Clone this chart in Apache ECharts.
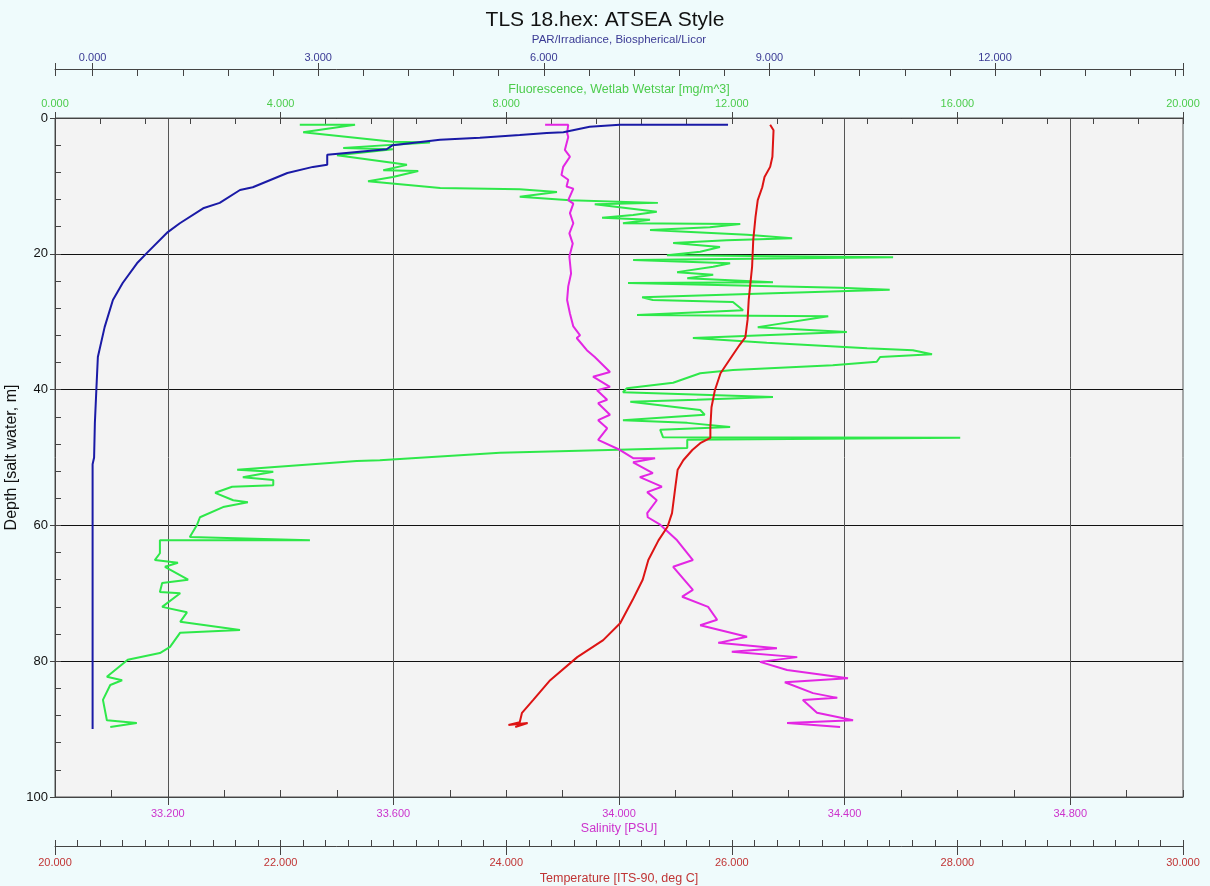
<!DOCTYPE html>
<html>
<head>
<meta charset="utf-8">
<script src="https://cdn.jsdelivr.net/npm/echarts@6/dist/echarts.min.js"></script>
<style>
html,body{margin:0;padding:0;background:#effbfc;}
#chart{width:1210px;height:886px;}
</style>
</head>
<body>
<div id="chart"></div>
<script>
// ---------------- data ----------------
const chartTitle = 'TLS 18.hex: ATSEA Style';

// PAR / Irradiance
const parDepth = [1.0,1.0,1.3,2.1,2.2,2.5,2.9,3.2,4.0,4.6,5.4,6.9,7.2,8.1,10.2,10.6,12.5,13.3,15.5,16.8,19.9,21.4,24.3,26.8,30.8,35.2,40.0,45.0,50.0,51.0,90.0];
const parValue = [8.45,7.01,6.61,6.26,6.04,5.68,5.15,4.62,3.99,3.91,3.12,3.12,2.93,2.59,2.13,1.96,1.69,1.47,1.16,1.00,0.72,0.59,0.40,0.27,0.16,0.07,0.05,0.03,0.02,0.00,0.00];

// Fluorescence
const fluDepth = [1.0,1.0,2.1,3.5,3.6,4.4,4.6,5.5,6.9,7.7,7.8,8.7,9.3,10.3,10.5,10.9,11.6,12.1,12.5,12.7,13.8,14.3,14.7,15.0,15.5,15.6,16.1,16.5,17.2,17.7,18.0,18.4,19.0,19.7,20.2,20.5,20.9,21.4,21.9,22.7,23.1,23.6,24.2,24.3,25.0,25.3,25.8,26.4,26.8,27.1,28.3,29.0,29.2,30.8,31.5,32.4,33.1,33.9,34.2,34.8,35.2,35.9,36.4,37.1,37.6,39.0,39.8,40.4,41.1,41.5,41.8,43.0,43.7,44.5,44.9,45.5,45.9,47.0,47.1,47.4,48.6,49.3,50.4,50.5,51.8,52.1,52.9,53.3,54.1,54.3,55.2,56.3,56.6,57.3,58.8,59.9,61.7,62.2,62.2,64.1,65.1,65.5,66.1,68.0,68.5,69.8,70.0,72.0,72.8,74.2,75.4,75.8,77.9,78.8,79.8,82.3,82.8,83.5,85.7,88.7,89.1,89.7];
const fluValue = [4.34,5.32,4.40,5.99,6.65,5.11,5.99,5.00,6.24,5.82,6.44,5.99,5.55,6.83,8.24,8.90,8.24,9.13,10.69,9.57,10.67,10.25,9.70,10.55,10.07,12.15,11.61,10.55,12.27,13.07,11.91,10.96,11.79,11.44,10.85,14.86,10.25,11.97,11.67,11.03,11.67,11.21,12.73,10.16,13.92,14.80,12.73,10.41,10.60,12.02,12.20,10.32,13.71,12.46,14.04,11.31,12.62,14.40,15.21,15.55,14.63,14.57,13.79,12.02,11.44,10.96,10.14,10.07,12.73,11.38,10.20,11.44,11.52,10.07,11.21,11.97,10.73,10.78,16.05,11.21,11.21,7.89,5.76,5.35,3.23,3.87,3.33,3.87,3.87,3.14,2.84,3.16,3.42,2.98,2.57,2.52,2.39,4.52,1.86,1.86,1.77,2.18,1.95,2.36,1.90,1.86,2.22,1.90,2.34,2.22,3.28,2.22,2.04,1.86,1.29,0.92,1.19,0.98,0.85,0.92,1.45,0.98];

// Salinity
const salDepth = [1.0,1.0,2.2,2.8,4.7,5.7,7.2,8.4,9.1,10.1,10.4,12.1,12.6,14.0,15.5,17.0,18.5,20.4,22.9,24.8,26.8,28.8,30.7,32.0,32.4,34.2,35.2,37.4,38.1,39.6,40.1,41.5,42.0,43.7,44.5,45.7,47.4,48.9,50.1,50.1,50.7,52.3,52.9,54.3,55.1,56.3,58.2,58.8,59.9,62.2,65.1,66.1,69.5,70.5,72.0,73.9,74.7,76.4,77.3,78.1,78.6,79.4,80.1,81.3,82.5,83.1,84.7,85.4,85.7,87.6,88.7,89.1,89.7];
const salValue = [33.869,33.910,33.908,33.910,33.904,33.913,33.901,33.898,33.910,33.907,33.919,33.910,33.919,33.913,33.919,33.912,33.918,33.912,33.915,33.910,33.908,33.913,33.919,33.931,33.925,33.943,33.957,33.984,33.954,33.984,33.961,33.979,33.963,33.984,33.963,33.979,33.963,34.002,34.025,34.064,34.025,34.060,34.037,34.076,34.050,34.067,34.050,34.051,34.073,34.103,34.131,34.096,34.131,34.112,34.158,34.174,34.144,34.227,34.176,34.280,34.200,34.316,34.250,34.298,34.406,34.294,34.344,34.387,34.326,34.351,34.415,34.298,34.392];

// Temperature
const tmpDepth = [1.0,1.8,5.7,7.2,8.7,10.2,12.1,14.6,18.0,21.9,26.8,29.7,32.3,33.4,35.6,37.6,40.1,42.6,45.5,47.1,47.9,48.9,50.4,51.8,54.3,58.2,60.2,62.2,65.1,68.0,71.0,74.4,76.9,79.4,82.8,85.7,87.6,89.0,89.4,89.1,89.7];
const tmpValue = [26.34,26.37,26.36,26.34,26.29,26.27,26.23,26.21,26.19,26.18,26.15,26.14,26.12,26.07,25.98,25.90,25.85,25.82,25.81,25.81,25.72,25.65,25.57,25.52,25.50,25.47,25.43,25.35,25.26,25.21,25.12,25.01,24.86,24.63,24.39,24.24,24.14,24.12,24.02,24.19,24.08];

// tick labels
const parTicks = [0, 3, 6, 9, 12];
const parEnds = [-0.5, 14.5];
const salTicks = [33.2, 33.6, 34.0, 34.4, 34.8];

// ---------------- chart ----------------
const FONT = 'Liberation Sans, Arial, sans-serif';
const zip = (d, v) => d.map((y, i) => [v[i], y]);

const parMinor = [];
for (let i = 0; i <= 24; i++) parMinor.push(Math.round(i * 0.6 * 100) / 100);
const parMinorTicks = [parEnds[0]].concat(parMinor, [parEnds[1]]);
const parMajorTicks = [parEnds[0]].concat(parTicks, [parEnds[1]]);

const fmt3 = v => Number(v).toFixed(3);
const axisLineStyle = { color: '#444', width: 1 };

function helperX(pos, offset, min, max, interval, len, custom) {
  const ax = {
    type: 'value', position: pos, offset: offset, min: min, max: max,
    axisLine: { show: false, onZero: false },
    axisTick: { show: true, inside: true, length: len, lineStyle: axisLineStyle },
    axisLabel: { show: false },
    splitLine: { show: false },
    silent: true
  };
  if (custom) ax.axisTick.customValues = custom; else ax.interval = interval;
  return ax;
}

const option = {
  backgroundColor: '#effbfc',
  animation: false,
  title: {
    text: chartTitle, left: 'center', top: 5,
    textStyle: { fontSize: 21, fontWeight: 'normal', color: '#111', fontFamily: FONT }
  },
  grid: {
    left: 55, right: 27, top: 118, bottom: 89,
    outerBoundsMode: 'none', containLabel: false,
    show: true, backgroundColor: '#f3f3f3', borderColor: '#555', borderWidth: 1
  },
  xAxis: [
    { // 0 PAR
      type: 'value', position: 'top', offset: 49, min: -0.5, max: 14.5,
      name: 'PAR/Irradiance, Biospherical/Licor', nameLocation: 'middle', nameGap: 23, nameMoveOverlap: false,
      nameTextStyle: { color: '#3a3a94', fontSize: 11.5, fontFamily: FONT },
      axisLine: { show: true, onZero: false, lineStyle: axisLineStyle },
      axisTick: { show: true, inside: false, length: 6, customValues: parMajorTicks, lineStyle: axisLineStyle },
      axisLabel: { customValues: parTicks, formatter: fmt3, color: '#3a3a94', fontSize: 11, margin: 6, fontFamily: FONT },
      splitLine: { show: false }
    },
    helperX('top', 49, -0.5, 14.5, null, 7, parMinorTicks), // 1
    { // 2 Fluorescence
      type: 'value', position: 'top', offset: 0, min: 0, max: 20, interval: 4,
      name: 'Fluorescence, Wetlab Wetstar [mg/m^3]', nameLocation: 'middle', nameGap: 22, nameMoveOverlap: false,
      nameTextStyle: { color: '#4ccc4c', fontSize: 12.5, fontFamily: FONT },
      axisLine: { show: true, onZero: false, lineStyle: axisLineStyle },
      axisTick: { show: true, inside: false, length: 6, lineStyle: axisLineStyle },
      axisLabel: { formatter: fmt3, color: '#4ccc4c', fontSize: 11, margin: 9, fontFamily: FONT },
      splitLine: { show: false }
    },
    helperX('top', 0, 0, 20, 0.8, 6), // 3
    { // 4 Salinity
      type: 'value', position: 'bottom', offset: 0, min: 33, max: 35,
      name: 'Salinity [PSU]', nameLocation: 'middle', nameGap: 25, nameMoveOverlap: false,
      nameTextStyle: { color: '#cc33cc', fontSize: 12.5, fontFamily: FONT },
      axisLine: { show: true, onZero: false, lineStyle: axisLineStyle },
      axisTick: { show: true, inside: false, length: 8, customValues: salTicks, lineStyle: axisLineStyle },
      axisLabel: { customValues: salTicks, formatter: fmt3, color: '#cc33cc', fontSize: 11, margin: 11, fontFamily: FONT },
      splitLine: { show: true, lineStyle: { color: '#555', width: 1 } }
    },
    helperX('bottom', 0, 33, 35, 0.1, 7), // 5
    { // 6 Temperature
      type: 'value', position: 'bottom', offset: 49, min: 20, max: 30, interval: 2,
      name: 'Temperature [ITS-90, deg C]', nameLocation: 'middle', nameGap: 26, nameMoveOverlap: false,
      nameTextStyle: { color: '#c03535', fontSize: 12.5, fontFamily: FONT },
      axisLine: { show: true, onZero: false, lineStyle: axisLineStyle },
      axisTick: { show: true, inside: false, length: 9, lineStyle: axisLineStyle },
      axisLabel: { formatter: fmt3, color: '#c03535', fontSize: 11, margin: 11, fontFamily: FONT },
      splitLine: { show: false }
    },
    helperX('bottom', 49, 20, 30, 0.2, 6) // 7
  ],
  yAxis: [
    {
      type: 'value', inverse: true, min: 0, max: 100, interval: 20, position: 'left',
      name: 'Depth [salt water, m]', nameLocation: 'middle', nameGap: 35, nameRotate: 90, nameMoveOverlap: false,
      nameTextStyle: { color: '#111', fontSize: 16, fontFamily: FONT },
      axisLine: { show: true, onZero: false, lineStyle: axisLineStyle },
      axisTick: { show: true, inside: false, length: 5, lineStyle: axisLineStyle },
      axisLabel: { color: '#111', fontSize: 13, margin: 7, fontFamily: FONT },
      splitLine: { show: true, lineStyle: { color: '#111', width: 1 } }
    },
    {
      type: 'value', inverse: true, min: 0, max: 100, interval: 4, position: 'left',
      axisLine: { show: false, onZero: false },
      axisTick: { show: true, inside: true, length: 6, lineStyle: axisLineStyle },
      axisLabel: { show: false },
      splitLine: { show: false }
    }
  ],
  series: [
    {
      name: 'Fluorescence', type: 'line', xAxisIndex: 2, yAxisIndex: 0,
      data: zip(fluDepth, fluValue), showSymbol: false, symbol: 'none',
      lineStyle: { color: '#2ee84a', width: 2 }, z: 2
    },
    {
      name: 'Salinity', type: 'line', xAxisIndex: 4, yAxisIndex: 0,
      data: zip(salDepth, salValue), showSymbol: false, symbol: 'none',
      lineStyle: { color: '#e326e3', width: 2 }, z: 3
    },
    {
      name: 'Temperature', type: 'line', xAxisIndex: 6, yAxisIndex: 0,
      data: zip(tmpDepth, tmpValue), showSymbol: false, symbol: 'none',
      lineStyle: { color: '#dd1414', width: 2 }, z: 4
    },
    {
      name: 'PAR', type: 'line', xAxisIndex: 0, yAxisIndex: 0,
      data: zip(parDepth, parValue), showSymbol: false, symbol: 'none',
      lineStyle: { color: '#1a1aa6', width: 2 }, z: 5
    }
  ]
};

const chart = echarts.init(document.getElementById('chart'), null, { renderer: 'canvas' });
chart.setOption(option);
</script>
</body>
</html>
